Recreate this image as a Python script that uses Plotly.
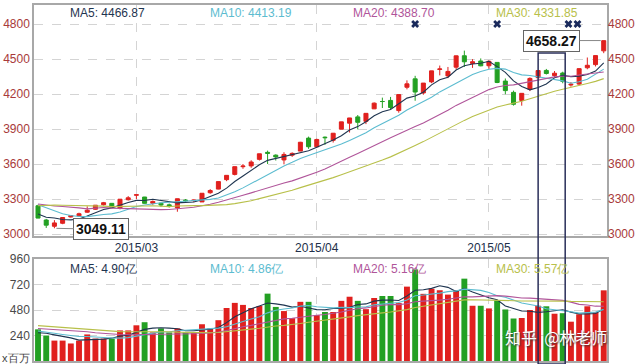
import plotly.graph_objects as go
import pandas as pd

# ---------------- data ----------------
dates = ["02-05", "02-06", "02-09", "02-10", "02-11", "02-12", "02-13", "02-16", "02-17", "02-25",
         "02-26", "02-27", "03-02", "03-03", "03-04", "03-05", "03-06", "03-09", "03-10", "03-11",
         "03-12", "03-13", "03-16", "03-17", "03-18", "03-19", "03-20", "03-23", "03-24", "03-25",
         "03-26", "03-27", "03-30", "03-31", "04-01", "04-02", "04-03", "04-07", "04-08", "04-09",
         "04-10", "04-13", "04-14", "04-15", "04-16", "04-17", "04-20", "04-21", "04-22", "04-23",
         "04-24", "04-27", "04-28", "04-29", "04-30", "05-04", "05-05", "05-06", "05-07", "05-08",
         "05-11", "05-12", "05-13", "05-14", "05-15", "05-18", "05-19", "05-20", "05-21", "05-22"]

open_ = [3242.2, 3120.1, 3066.5, 3092.0, 3146.0, 3156.0, 3187.0, 3212.0, 3251.0, 3263.0,
         3222.0, 3294.0, 3332.7, 3317.0, 3264.0, 3264.0, 3250.0, 3224.0, 3291.0, 3286.0,
         3275.0, 3354.0, 3385.0, 3466.0, 3511.0, 3577.0, 3584.0, 3640.0, 3700.0, 3676.0,
         3635.0, 3676.0, 3711.0, 3822.0, 3748.0, 3830.0, 3803.0, 3899.0, 3950.0, 4004.0,
         3966.0, 4073.0, 4136.0, 4145.0, 4058.0, 4258.0, 4330.0, 4209.0, 4304.0, 4411.0,
         4355.0, 4430.0, 4528.0, 4462.0, 4483.0, 4442.0, 4471.0, 4311.0, 4214.0, 4145.0,
         4240.0, 4340.0, 4402.0, 4358.0, 4380.0, 4277.0, 4285.0, 4425.0, 4452.0, 4570.0]
high = [3251.2, 3129.5, 3119.0, 3142.3, 3163.0, 3182.8, 3237.0, 3247.0, 3275.0, 3264.0,
        3300.0, 3325.0, 3336.8, 3317.8, 3287.0, 3267.0, 3261.0, 3303.0, 3300.0, 3295.0,
        3350.0, 3385.0, 3449.0, 3503.0, 3578.0, 3600.0, 3632.0, 3688.0, 3715.0, 3683.0,
        3701.0, 3700.0, 3790.0, 3835.0, 3817.0, 3836.0, 3866.0, 3961.0, 3994.0, 4020.0,
        4035.0, 4128.0, 4169.0, 4175.0, 4195.0, 4317.0, 4356.0, 4294.0, 4398.0, 4444.0,
        4432.0, 4529.0, 4572.0, 4499.0, 4505.0, 4488.0, 4471.0, 4333.0, 4229.0, 4206.0,
        4343.0, 4402.0, 4415.0, 4397.0, 4391.0, 4303.0, 4418.0, 4513.0, 4530.0, 4658.27]
low = [3135.0, 3052.0, 3049.11, 3084.2, 3142.0, 3152.0, 3181.0, 3208.0, 3244.0, 3228.0,
       3211.0, 3287.0, 3298.7, 3260.4, 3250.0, 3233.0, 3227.0, 3191.0, 3277.0, 3273.0,
       3275.0, 3345.0, 3383.0, 3453.0, 3502.0, 3559.0, 3568.0, 3630.0, 3600.0, 3630.0,
       3597.0, 3661.0, 3711.0, 3730.0, 3742.0, 3765.0, 3784.0, 3899.0, 3870.0, 3897.0,
       3942.0, 4071.0, 4080.0, 4065.0, 4040.0, 4240.0, 4142.0, 4194.0, 4293.0, 4360.0,
       4336.0, 4410.0, 4432.0, 4424.0, 4438.0, 4415.0, 4293.0, 4198.0, 4101.0, 4100.0,
       4225.0, 4337.0, 4367.0, 4346.0, 4292.0, 4263.0, 4276.0, 4412.0, 4436.0, 4550.0]
close = [3136.53, 3075.91, 3095.12, 3141.59, 3157.70, 3173.42, 3203.83, 3246.91, 3268.63, 3228.84,
         3298.36, 3310.30, 3336.28, 3263.05, 3279.53, 3248.48, 3241.19, 3302.41, 3286.07, 3290.90,
         3349.32, 3372.91, 3449.30, 3502.85, 3577.30, 3582.27, 3617.32, 3687.73, 3691.41, 3660.73,
         3682.09, 3691.10, 3786.57, 3747.90, 3810.29, 3825.78, 3863.93, 3961.38, 3994.81, 3957.53,
         4034.31, 4121.71, 4135.57, 4084.16, 4194.82, 4287.30, 4217.08, 4293.62, 4398.49, 4414.51,
         4393.69, 4527.40, 4476.21, 4476.62, 4441.66, 4480.46, 4298.71, 4229.27, 4112.21, 4205.92,
         4333.58, 4401.22, 4375.76, 4378.31, 4308.69, 4283.49, 4417.55, 4446.29, 4529.42, 4657.60]

# volume, in millions (x百万)
volume = [298, 240, 192, 192, 165, 192, 250, 211, 211, 211,
          288, 288, 336, 365, 269, 307, 269, 307, 269, 269,
          346, 307, 384, 499, 547, 528, 499, 518, 634, 509,
          470, 403, 557, 557, 432, 461, 461, 566, 605, 566,
          488, 593, 612, 612, 545, 700, 862, 632, 680, 666,
          625, 665, 775, 520, 520, 495, 570, 485, 400, 405,
          480, 520, 515, 445, 450, 370, 440, 515, 460, 665]

# closes / volumes of the 29 sessions before the first candle (used by the moving averages)
prior_close = [2966.40, 3072.54, 3157.60, 3168.02, 3165.82, 3234.68,
               3350.52, 3351.45, 3373.95, 3293.46, 3285.41, 3229.32, 3235.30, 3222.44, 3336.45, 3376.50,
               3116.35, 3173.05, 3323.61, 3343.34, 3351.76, 3383.18, 3352.96, 3305.74, 3262.30, 3210.36,
               3128.30, 3204.91, 3174.13]
prior_volume = [420, 380, 400, 390, 360, 380,
                400, 420, 380, 340, 330, 300, 280, 260, 320, 350,
                420, 340, 360, 340, 320, 330, 300, 280, 270, 260,
                270, 260, 240]

month_ticks = [12, 34, 55]
month_labels = ["2015/03", "2015/04", "2015/05"]
price_ticks = [3000, 3300, 3600, 3900, 4200, 4500, 4800]
volume_ticks = [240, 480, 720, 960]
event_days = [46, 56, 64.7, 65.8]
event_level = [4800, 4800, 4800, 4800]
ma_periods = [5, 10, 20, 30]
price_ma_labels = ["MA5: 4466.87", "MA10: 4413.19", "MA20: 4388.70", "MA30: 4331.85"]
volume_ma_labels = ["MA5: 4.90亿", "MA10: 4.86亿", "MA20: 5.16亿", "MA30: 5.57亿"]
high_label = "4658.27"
low_label = "3049.11"

# ---------------- styles ----------------
RED = "#e0201e"
GREEN = "#23a023"
MA_COLORS = ["#1f3550", "#5cbcd0", "#b0559a", "#b8c04a"]
LABEL_X = [68, 208, 351, 494]          # pixel left edges of the MA captions
FONT = "Liberation Sans, Arial, sans-serif"
W, H = 640, 364
ML, MR, MT, MB = 34, 33, 5, 3
PW, PH = W - ML - MR, H - MT - MB


def fx(px):
    return (px - ML) / PW


def fy(py):
    return (H - MB - py) / PH


x = list(range(len(close)))
closes_all = pd.Series(prior_close + close)
vols_all = pd.Series(prior_volume + volume)
n0 = len(prior_close)

fig = go.Figure()

# price moving averages
for p, c in zip(ma_periods, MA_COLORS):
    ma = closes_all.rolling(p).mean().iloc[n0:].tolist()
    fig.add_trace(go.Scatter(x=x, y=ma, mode="lines", line=dict(color=c, width=1.1),
                             xaxis="x", yaxis="y", hoverinfo="skip"))

fig.add_trace(go.Candlestick(
    x=x, open=open_, high=high, low=low, close=close,
    increasing=dict(line=dict(color=RED, width=1), fillcolor=RED),
    decreasing=dict(line=dict(color=GREEN, width=1), fillcolor=GREEN),
    whiskerwidth=0, xaxis="x", yaxis="y"))

# event markers on top
fig.add_trace(go.Scatter(x=event_days, y=event_level, mode="markers",
                         marker=dict(symbol="x", size=7, color="#1a2a5c",
                                     line=dict(width=0)),
                         xaxis="x", yaxis="y", hoverinfo="skip"))

# invisible trace to carry the right-hand price axis
fig.add_trace(go.Scatter(x=x, y=close, mode="lines", line=dict(width=0), opacity=0,
                         xaxis="x", yaxis="y3", hoverinfo="skip"))

# volume bars
vol_colors = [RED if c >= o else GREEN for o, c in zip(open_, close)]
fig.add_trace(go.Bar(x=x, y=volume, marker=dict(color=vol_colors, line=dict(width=0)),
                     width=0.72, xaxis="x2", yaxis="y2"))
for p, c in zip(ma_periods, MA_COLORS):
    vma = vols_all.rolling(p).mean().iloc[n0:].tolist()
    fig.add_trace(go.Scatter(x=x, y=vma, mode="lines", line=dict(color=c, width=1.1),
                             xaxis="x2", yaxis="y2", hoverinfo="skip"))

PRICE_DOMAIN = [fy(236), 1]
VOL_DOMAIN = [0, fy(259)]
XR = [-0.49, 69.4]
PR = [2983, 4963]
GRID = "#d4d4d4"
BORDER = "#a8a8a8"

fig.update_layout(
    width=W, height=H, margin=dict(l=ML, r=MR, t=MT, b=MB, autoexpand=False),
    paper_bgcolor="white", plot_bgcolor="white", showlegend=False,
    font=dict(family=FONT, size=12),
    xaxis=dict(domain=[0, 1], anchor="y", range=XR, rangeslider=dict(visible=False),
               tickvals=month_ticks, ticktext=month_labels, ticks="", ticklen=0,
               tickfont=dict(color="#22304a", size=12), automargin=False,
               showgrid=True, gridcolor=GRID, griddash="dash", gridwidth=1,
               showline=True, linecolor=BORDER, linewidth=1.5, mirror=True, zeroline=False),
    yaxis=dict(domain=PRICE_DOMAIN, anchor="x", range=PR, tickvals=price_ticks,
               ticks="", tickfont=dict(color="#a83a3a", size=12), automargin=False,
               showgrid=True, gridcolor=GRID, griddash="dash", gridwidth=1,
               showline=True, linecolor=BORDER, linewidth=1.5, mirror=True, zeroline=False),
    yaxis3=dict(overlaying="y", side="right", anchor="x", range=PR, tickvals=price_ticks,
                ticks="", tickfont=dict(color="#a83a3a", size=12), showgrid=False,
                automargin=False, zeroline=False, showline=False),
    xaxis2=dict(domain=[0, 1], anchor="y2", range=XR, tickvals=month_ticks,
                showticklabels=False, ticks="", automargin=False,
                showgrid=True, gridcolor=GRID, griddash="dash", gridwidth=1,
                showline=True, linecolor=BORDER, linewidth=1.5, mirror=True, zeroline=False),
    yaxis2=dict(domain=VOL_DOMAIN, anchor="x2", range=[0, 960], tickvals=volume_ticks,
                ticks="", tickfont=dict(color="#4a4a4a", size=12), automargin=False,
                showgrid=True, gridcolor=GRID, griddash="dash", gridwidth=1,
                showline=True, linecolor=BORDER, linewidth=1.5, mirror=True, zeroline=False),
    bargap=0.28,
)

anns = []
for lx, t, c in zip(LABEL_X, price_ma_labels, MA_COLORS):
    anns.append(dict(xref="paper", yref="paper", x=fx(lx), y=fy(13), text=t,
                     showarrow=False, xanchor="left", yanchor="middle",
                     font=dict(size=12, color=c)))
for lx, t, c in zip(LABEL_X, volume_ma_labels, MA_COLORS):
    anns.append(dict(xref="paper", yref="paper", x=fx(lx), y=fy(269), text=t,
                     showarrow=False, xanchor="left", yanchor="middle",
                     font=dict(size=12, color=c)))

# high / low labels
i_hi = high.index(max(high))
i_lo = low.index(min(low))
anns.append(dict(x=i_hi, y=max(high), xref="x", yref="y", text="<b>%s</b>" % high_label,
                 showarrow=True, arrowhead=0, arrowwidth=1, arrowcolor="#888", ax=-52, ay=0,
                 standoff=3, bgcolor="white", bordercolor="#666", borderwidth=1, borderpad=2,
                 font=dict(size=14, color="#111")))
anns.append(dict(x=i_lo, y=min(low), xref="x", yref="y", text="<b>%s</b>" % low_label,
                 showarrow=True, arrowhead=0, arrowwidth=1, arrowcolor="#888", ax=47, ay=1,
                 standoff=2, bgcolor="white", bordercolor="#666", borderwidth=1, borderpad=2,
                 font=dict(size=14, color="#111")))

anns.append(dict(xref="paper", yref="paper", x=fx(0), y=fy(358), text="x百万",
                 showarrow=False, xanchor="left", yanchor="middle",
                 font=dict(size=11, color="#444")))
anns.append(dict(xref="paper", yref="paper", x=fx(556), y=fy(337), text="知乎  @林老师",
                 showarrow=False, xanchor="center", yanchor="middle",
                 font=dict(size=16, color="white", family="Noto Sans CJK SC",
                           shadow="1px 1px 2px #333")))
fig.update_layout(annotations=anns)

# highlight frame
fig.add_shape(type="rect", xref="x", yref="paper", x0=61.0, x1=64.3,
              y0=fy(364), y1=fy(53), line=dict(color="#2a2f5a", width=1.5),
              fillcolor="rgba(0,0,0,0)", layer="above")

fig.write_html("out.html", config={"displayModeBar": False},
               post_script="document.body.style.margin='0px';"
                           "document.body.style.overflow='hidden';")
